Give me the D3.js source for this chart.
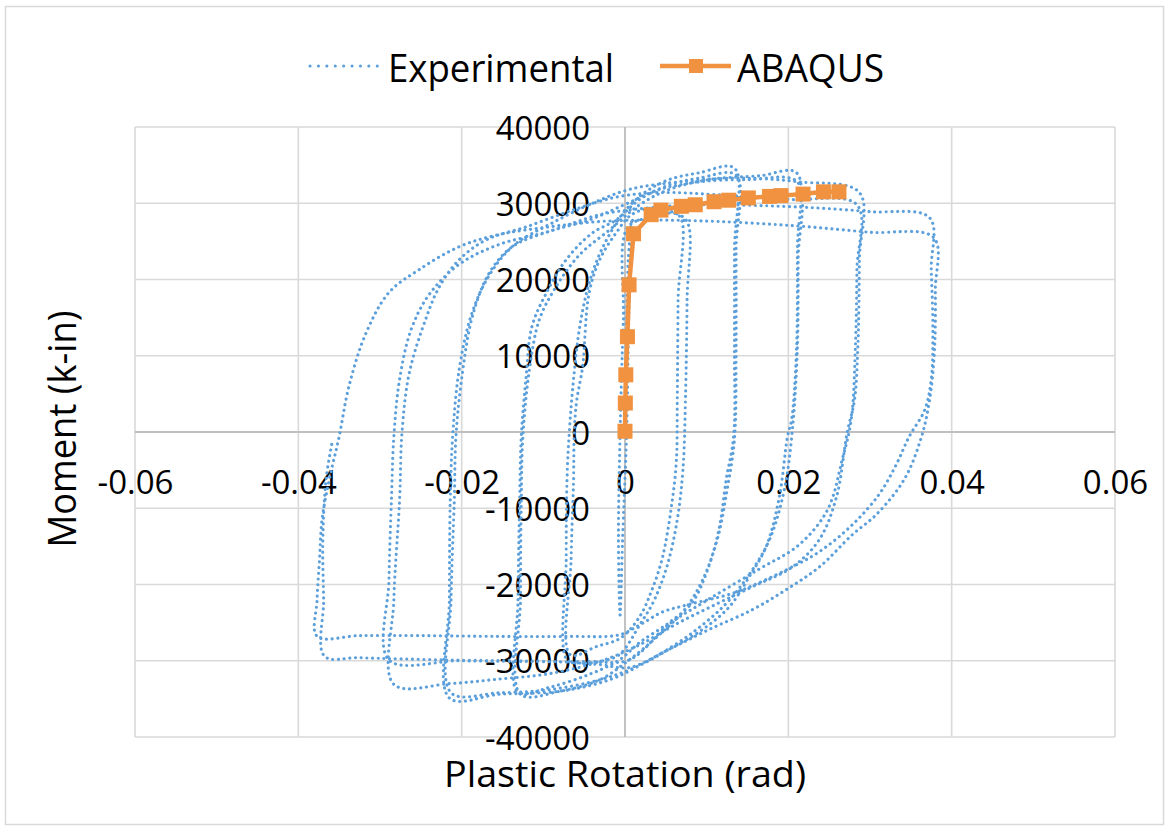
<!DOCTYPE html>
<html>
<head>
<meta charset="utf-8">
<script src="https://cdn.jsdelivr.net/npm/d3@7"></script>
<style>
  html, body { margin: 0; padding: 0; background: #ffffff; }
  svg { display: block; }
  text { font-family: "Open Sans", "Noto Sans", sans-serif; fill: #000; }
</style>
</head>
<body>
<svg id="chart" width="1170" height="831"></svg>
<script>
// ---------------- data ----------------
const xTicks = [-0.06, -0.04, -0.02, 0, 0.02, 0.04, 0.06];
const xTickLabels = ["-0.06", "-0.04", "-0.02", "0", "0.02", "0.04", "0.06"];
const yTicks = [-40000, -30000, -20000, -10000, 0, 10000, 20000, 30000, 40000];
const yTickLabels = ["-40000", "-30000", "-20000", "-10000", "0", "10000", "20000", "30000", "40000"];

const seriesNames = ["Experimental", "ABAQUS"];

// ABAQUS monotonic curve
const abaqusRotation = [0, 0.00004, 0.0001, 0.0003, 0.0005, 0.00105, 0.0032, 0.0044, 0.0069, 0.0086, 0.0109, 0.0127, 0.0151, 0.0177, 0.0191, 0.0218, 0.0243, 0.0262];
const abaqusMoment   = [100, 3800, 7500, 12500, 19300, 26000, 28500, 29100, 29600, 29800, 30200, 30400, 30700, 30900, 31000, 31200, 31500, 31500];

// Experimental cyclic test (plastic rotation, rad)
const expRotation = [
  0.0000, 0.0002, 0.0004, 0.0008, 0.0005, 0.0002, -0.0003, -0.0006, -0.0008, -0.0006, -0.0002, 0.0003, 0.0030,
  0.0066, 0.0065, 0.0064, 0.0063, 0.0058, 0.0046, 0.0033, 0.0018, -0.0005, -0.0034, -0.0067,
  -0.0066, -0.0063, -0.0062, -0.0059, -0.0052, -0.0044, -0.0031, -0.0011, 0.0008, 0.0036, 0.0057, 0.0076,
  0.0076, 0.0074, 0.0071, 0.0064, 0.0052, 0.0036, 0.0018, -0.0007, -0.0031, -0.0053, -0.0071,
  -0.0072, -0.0071, -0.0068, -0.0063, -0.0056, -0.0046, -0.0034, -0.0019, -0.0001, 0.0024, 0.0054, 0.0091, 0.0134,
  0.0134, 0.0134, 0.0133, 0.0124, 0.0115, 0.0100, 0.0082, 0.0054, 0.0018, -0.0007, -0.0044, -0.0093, -0.0131,
  -0.0131, -0.0129, -0.0127, -0.0121, -0.0114, -0.0096, -0.0072, -0.0040, -0.0011, 0.0018, 0.0054, 0.0091, 0.0136,
  0.0136, 0.0136, 0.0134, 0.0125, 0.0113, 0.0095, 0.0073, 0.0042, 0.0005, -0.0031, -0.0080, -0.0128,
  -0.0128, -0.0127, -0.0125, -0.0117, -0.0105, -0.0087, -0.0056, -0.0019, 0.0018, 0.0054, 0.0103, 0.0165, 0.0210,
  0.0211, 0.0210, 0.0204, 0.0199, 0.0189, 0.0173, 0.0152, 0.0128, 0.0095, 0.0054, 0.0014, -0.0031, -0.0093, -0.0154, -0.0213,
  -0.0213, -0.0209, -0.0207, -0.0199, -0.0187, -0.0166, -0.0138, -0.0093, -0.0044, -0.0001, 0.0042, 0.0091, 0.0152, 0.0211,
  0.0212, 0.0211, 0.0205, 0.0195, 0.0177, 0.0152, 0.0122, 0.0079, 0.0030, -0.0019, -0.0080, -0.0154, -0.0215,
  -0.0215, -0.0214, -0.0211, -0.0203, -0.0188, -0.0166, -0.0136, -0.0093, -0.0044, 0.0005, 0.0066, 0.0140, 0.0213, 0.0287,
  0.0287, 0.0285, 0.0281, 0.0272, 0.0259, 0.0238, 0.0205, 0.0156, 0.0115, 0.0066, 0.0018, -0.0031, -0.0093, -0.0154, -0.0215, -0.0283,
  -0.0283, -0.0276, -0.0273, -0.0264, -0.0243, -0.0227, -0.0203, -0.0170, -0.0121, -0.0064, -0.0011, 0.0042, 0.0115, 0.0201, 0.0284,
  0.0284, 0.0282, 0.0277, 0.0266, 0.0248, 0.0213, 0.0164, 0.0103, 0.0054, 0.0005, -0.0044, -0.0117, -0.0203, -0.0289,
  -0.0289, -0.0286, -0.0283, -0.0276, -0.0262, -0.0240, -0.0203, -0.0154, -0.0093, -0.0031, 0.0030, 0.0091, 0.0213, 0.0299, 0.0373,
  0.0375, 0.0377, 0.0375, 0.0367, 0.0348, 0.0332, 0.0311, 0.0278, 0.0238, 0.0197, 0.0136, 0.0079, 0.0046, 0.0018, -0.0007, -0.0068, -0.0154, -0.0252, -0.0325, -0.0377,
  -0.0377, -0.0374, -0.0371, -0.0362, -0.0350, -0.0338, -0.0317, -0.0289, -0.0252, -0.0203, -0.0154, -0.0093, -0.0031, 0.0030, 0.0115, 0.0213, 0.0299, 0.0378,
  0.0380, 0.0379, 0.0373, 0.0362, 0.0342, 0.0308, 0.0278, 0.0238, 0.0197, 0.0156, 0.0103, 0.0054, 0.0005, -0.0031, -0.0093, -0.0215, -0.0325, -0.0368,
  -0.0369, -0.0370, -0.0366, -0.0358
];
// Experimental moment (k-in)
const expMoment = [
  0, 13400, 22600, 27600, 17300, 0, -14200, -24000, -14200, 0, 14700, 26800, 28100,
  28400, 17300, 4200, -3600, -8900, -16400, -20700, -24200, -27000, -28100, -29200,
  -16700, -6200, 300, 4200, 8500, 18200, 22600, 26100, 28500, 29400, 28900, 27600,
  17300, 4200, -4900, -11500, -17400, -22000, -25300, -29200, -30100, -30300, -29900,
  -16700, -6200, 300, 6900, 13400, 18700, 22600, 25900, 28900, 31400, 33100, 34000, 34600,
  23900, 10800, -600, -6200, -12800, -18400, -22400, -25000, -27600, -29900, -31800, -33500, -34200,
  -22000, -8900, -600, 7300, 13800, 18300, 22600, 26100, 27800, 30500, 32400, 33300, 33700,
  23900, 10800, -1000, -7600, -14100, -19400, -23300, -26600, -29900, -32500, -34000, -34400,
  -22000, -8900, -600, 8200, 14700, 18600, 23200, 26500, 29800, 31800, 33100, 33600, 34000,
  23900, 10800, 1600, -600, -8500, -15000, -19000, -22900, -25900, -28500, -30800, -32500, -33800, -34200, -34200,
  -22000, -8900, -600, 7800, 15100, 20900, 24300, 26300, 27800, 29800, 31800, 32800, 33100, 32800,
  22600, 10800, 300, -7600, -14100, -18700, -22700, -26600, -29900, -32500, -34000, -34400, -34900,
  -22000, -8900, -600, 8200, 15400, 20600, 24500, 27200, 29800, 31800, 32800, 33300, 32800, 31400,
  22600, 10800, 4200, -100, -8500, -14100, -17700, -20300, -22400, -25000, -27900, -30100, -31700, -32400, -33000, -33100,
  -22000, -8900, 0, 7800, 15100, 19100, 22600, 25200, 26900, 29100, 30800, 31400, 31100, 30500, 29800,
  21300, 10800, 1600, -3600, -10200, -14800, -18000, -21900, -25200, -29900, -30100, -30100, -30000, -29900,
  -19400, -8900, -600, 6900, 13400, 18000, 22000, 24600, 26300, 28500, 29400, 29800, 29500, 28900, 28100,
  21300, 13400, 6900, 2900, -600, -4300, -8200, -12200, -15700, -18100, -21000, -22600, -23600, -25300, -26600, -26800, -26800, -26700, -26700, -26800,
  -22000, -16700, -11500, -6200, -600, 6000, 13000, 18300, 21300, 24300, 25900, 26900, 27600, 27800, 27600, 27000, 26200, 25500,
  18600, 10800, 4200, -1000, -6200, -10800, -13500, -17700, -20700, -23300, -25900, -28500, -30900, -30500, -30100, -29900, -29600, -29400,
  -22000, -14100, -6200, -1000
];

const xTitle = "Plastic Rotation (rad)";
const yTitle = "Moment (k-in)";

// ---------------- drawing ----------------
const blue = "#5B9FDB";
const orange = "#F0923F";
const svg = d3.select("#chart");

// chart frame
svg.append("rect").attr("x", 5.5).attr("y", 6.5).attr("width", 1158).attr("height", 818)
  .attr("fill", "#fff").attr("stroke", "#d9d9d9").attr("stroke-width", 1.5);

const x = d3.scaleLinear().domain([-0.06, 0.06]).range([135, 1115]);
const y = d3.scaleLinear().domain([-40000, 40000]).range([737, 127]);

// gridlines
svg.append("g").selectAll("line.vg").data(xTicks).join("line")
  .attr("x1", d => x(d)).attr("x2", d => x(d)).attr("y1", y(40000)).attr("y2", y(-40000))
  .attr("stroke", "#d9d9d9").attr("stroke-width", 1.6);
svg.append("g").selectAll("line.hg").data(yTicks).join("line")
  .attr("x1", x(-0.06)).attr("x2", x(0.06)).attr("y1", d => y(d)).attr("y2", d => y(d))
  .attr("stroke", "#d9d9d9").attr("stroke-width", 1.6);

// zero axes
svg.append("line").attr("x1", x(0)).attr("x2", x(0)).attr("y1", y(40000)).attr("y2", y(-40000))
  .attr("stroke", "#bfbfbf").attr("stroke-width", 1.8);
svg.append("line").attr("x1", x(-0.06)).attr("x2", x(0.06)).attr("y1", y(0)).attr("y2", y(0))
  .attr("stroke", "#bfbfbf").attr("stroke-width", 1.8);

// axes labels
const xAxis = d3.axisBottom(x).tickValues(xTicks).tickFormat((d, i) => xTickLabels[i]).tickSize(0);
const gx = svg.append("g").attr("transform", `translate(0,${y(0)})`).call(xAxis);
gx.select(".domain").remove();
gx.selectAll("text").attr("dy", null).attr("y", 62)
  .style("font-family", '"Open Sans", sans-serif').style("font-size", "33px").attr("fill", "#000");

const yAxis = d3.axisLeft(y).tickValues(yTicks).tickFormat((d, i) => yTickLabels[i]).tickSize(0);
const gy = svg.append("g").attr("transform", `translate(${x(0)},0)`).call(yAxis);
gy.select(".domain").remove();
gy.selectAll("text").attr("dy", null).attr("x", -35).attr("y", 12)
  .style("font-family", '"Open Sans", sans-serif').style("font-size", "33px").attr("fill", "#000");

// experimental series
const expData = expRotation.map((r, i) => [r, expMoment[i]]);
const line = d3.line().x(d => x(d[0])).y(d => y(d[1])).curve(d3.curveCatmullRom.alpha(0.5));
svg.append("path").datum(expData).attr("d", line)
  .attr("fill", "none").attr("stroke", blue).attr("stroke-width", 3.1)
  .attr("stroke-linecap", "round").attr("stroke-dasharray", "0.1 5.6");

// ABAQUS series
const abData = abaqusRotation.map((r, i) => [r, abaqusMoment[i]]);
const lin = d3.line().x(d => x(d[0])).y(d => y(d[1]));
svg.append("path").datum(abData).attr("d", lin)
  .attr("fill", "none").attr("stroke", orange).attr("stroke-width", 4.5).attr("stroke-linejoin", "round");
const sq = 15;
svg.append("g").selectAll("rect").data(abData).join("rect")
  .attr("x", d => x(d[0]) - sq / 2).attr("y", d => y(d[1]) - sq / 2)
  .attr("width", sq).attr("height", sq).attr("fill", orange);

// axis titles
svg.append("text").attr("x", x(0)).attr("y", 787).attr("text-anchor", "middle")
  .attr("textLength", 362).attr("lengthAdjust", "spacingAndGlyphs")
  .style("font-size", "37px").text(xTitle);
svg.append("text").attr("transform", `translate(76,${429}) rotate(-90)`).attr("text-anchor", "middle")
  .attr("textLength", 237).attr("lengthAdjust", "spacingAndGlyphs")
  .style("font-size", "38px").text(yTitle);

// legend
const lg = svg.append("g");
lg.append("line").attr("x1", 310).attr("x2", 378).attr("y1", 66).attr("y2", 66)
  .attr("stroke", blue).attr("stroke-width", 3).attr("stroke-linecap", "round").attr("stroke-dasharray", "0.1 8.3");
lg.append("text").attr("x", 388).attr("y", 82).attr("textLength", 226).attr("lengthAdjust", "spacingAndGlyphs")
  .style("font-size", "38px").text(seriesNames[0]);
lg.append("line").attr("x1", 660).attr("x2", 731).attr("y1", 66).attr("y2", 66)
  .attr("stroke", orange).attr("stroke-width", 4.5);
lg.append("rect").attr("x", 696 - 7).attr("y", 66 - 7).attr("width", 14).attr("height", 14).attr("fill", orange);
lg.append("text").attr("x", 737).attr("y", 82).attr("textLength", 147).attr("lengthAdjust", "spacingAndGlyphs")
  .style("font-size", "38px").text(seriesNames[1]);
</script>
</body>
</html>
